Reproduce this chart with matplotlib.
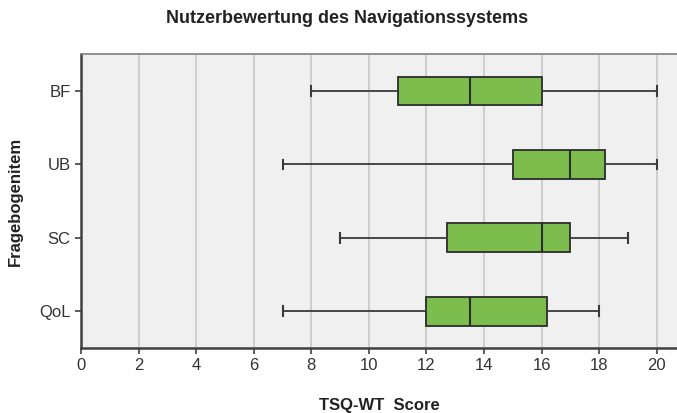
import matplotlib
matplotlib.use('Agg')
import matplotlib.pyplot as plt

# Box plot statistics
items = ['BF', 'UB', 'SC', 'QoL']
whisker_low = [8, 7, 9, 7]
q1 = [11, 15, 12.7, 12]
median = [13.5, 17, 16, 13.5]
q3 = [16, 18.2, 17, 16.2]
whisker_high = [20, 20, 19, 18]
x_ticks = list(range(0, 21, 2))

plt.rcParams['font.family'] = ['Liberation Sans', 'DejaVu Sans']

fig = plt.figure(figsize=(6.77, 4.13), dpi=100)
ax = fig.add_axes([0.1196, 0.1574, 0.8804, 0.7116])
ax.set_facecolor('#f0f0f0')

stats = []
for i, name in enumerate(items):
    stats.append({
        'label': name,
        'whislo': whisker_low[i],
        'q1': q1[i],
        'med': median[i],
        'q3': q3[i],
        'whishi': whisker_high[i],
        'fliers': [],
    })

positions = list(range(len(items), 0, -1))
ax.bxp(stats, positions=positions, vert=False, widths=0.39, patch_artist=True,
       showfliers=False,
       boxprops=dict(facecolor='#7dbd4e', edgecolor='#2b2b2b', linewidth=1.3),
       medianprops=dict(color='#2b2b2b', linewidth=1.5),
       whiskerprops=dict(color='#3a3a3a', linewidth=1.3),
       capprops=dict(color='#3a3a3a', linewidth=1.5),
       capwidths=0.13)

ax.set_xlim(0, 20.7)
ax.set_ylim(0.5, len(items) + 0.5)
ax.set_xticks(x_ticks)
ax.set_xticklabels([str(t) for t in x_ticks], fontsize=12, color='#333333')
ax.set_yticks(positions)
ax.set_yticklabels(items, fontsize=12, color='#333333')
ax.xaxis.grid(True, color='#c8c8c8', linewidth=1.2)
ax.set_axisbelow(True)

for side in ['left', 'bottom']:
    ax.spines[side].set_color('#404040')
    ax.spines[side].set_linewidth(1.8)
ax.spines['top'].set_color('#808080')
ax.spines['top'].set_linewidth(1.2)
ax.spines['right'].set_visible(False)
ax.tick_params(axis='both', direction='out', length=4, width=1.2, color='#404040')

ax.set_xlabel('TSQ-WT  Score', fontsize=12, fontweight='bold', color='#222222', labelpad=18)
ax.set_ylabel('Fragebogenitem', fontsize=12, fontweight='bold', color='#222222', labelpad=12)
fig.suptitle('Nutzerbewertung des Navigationssystems', x=0.513, y=0.975, fontsize=13,
             fontweight='bold', color='#222222')

fig.savefig('out.png', dpi=100, facecolor='white')
